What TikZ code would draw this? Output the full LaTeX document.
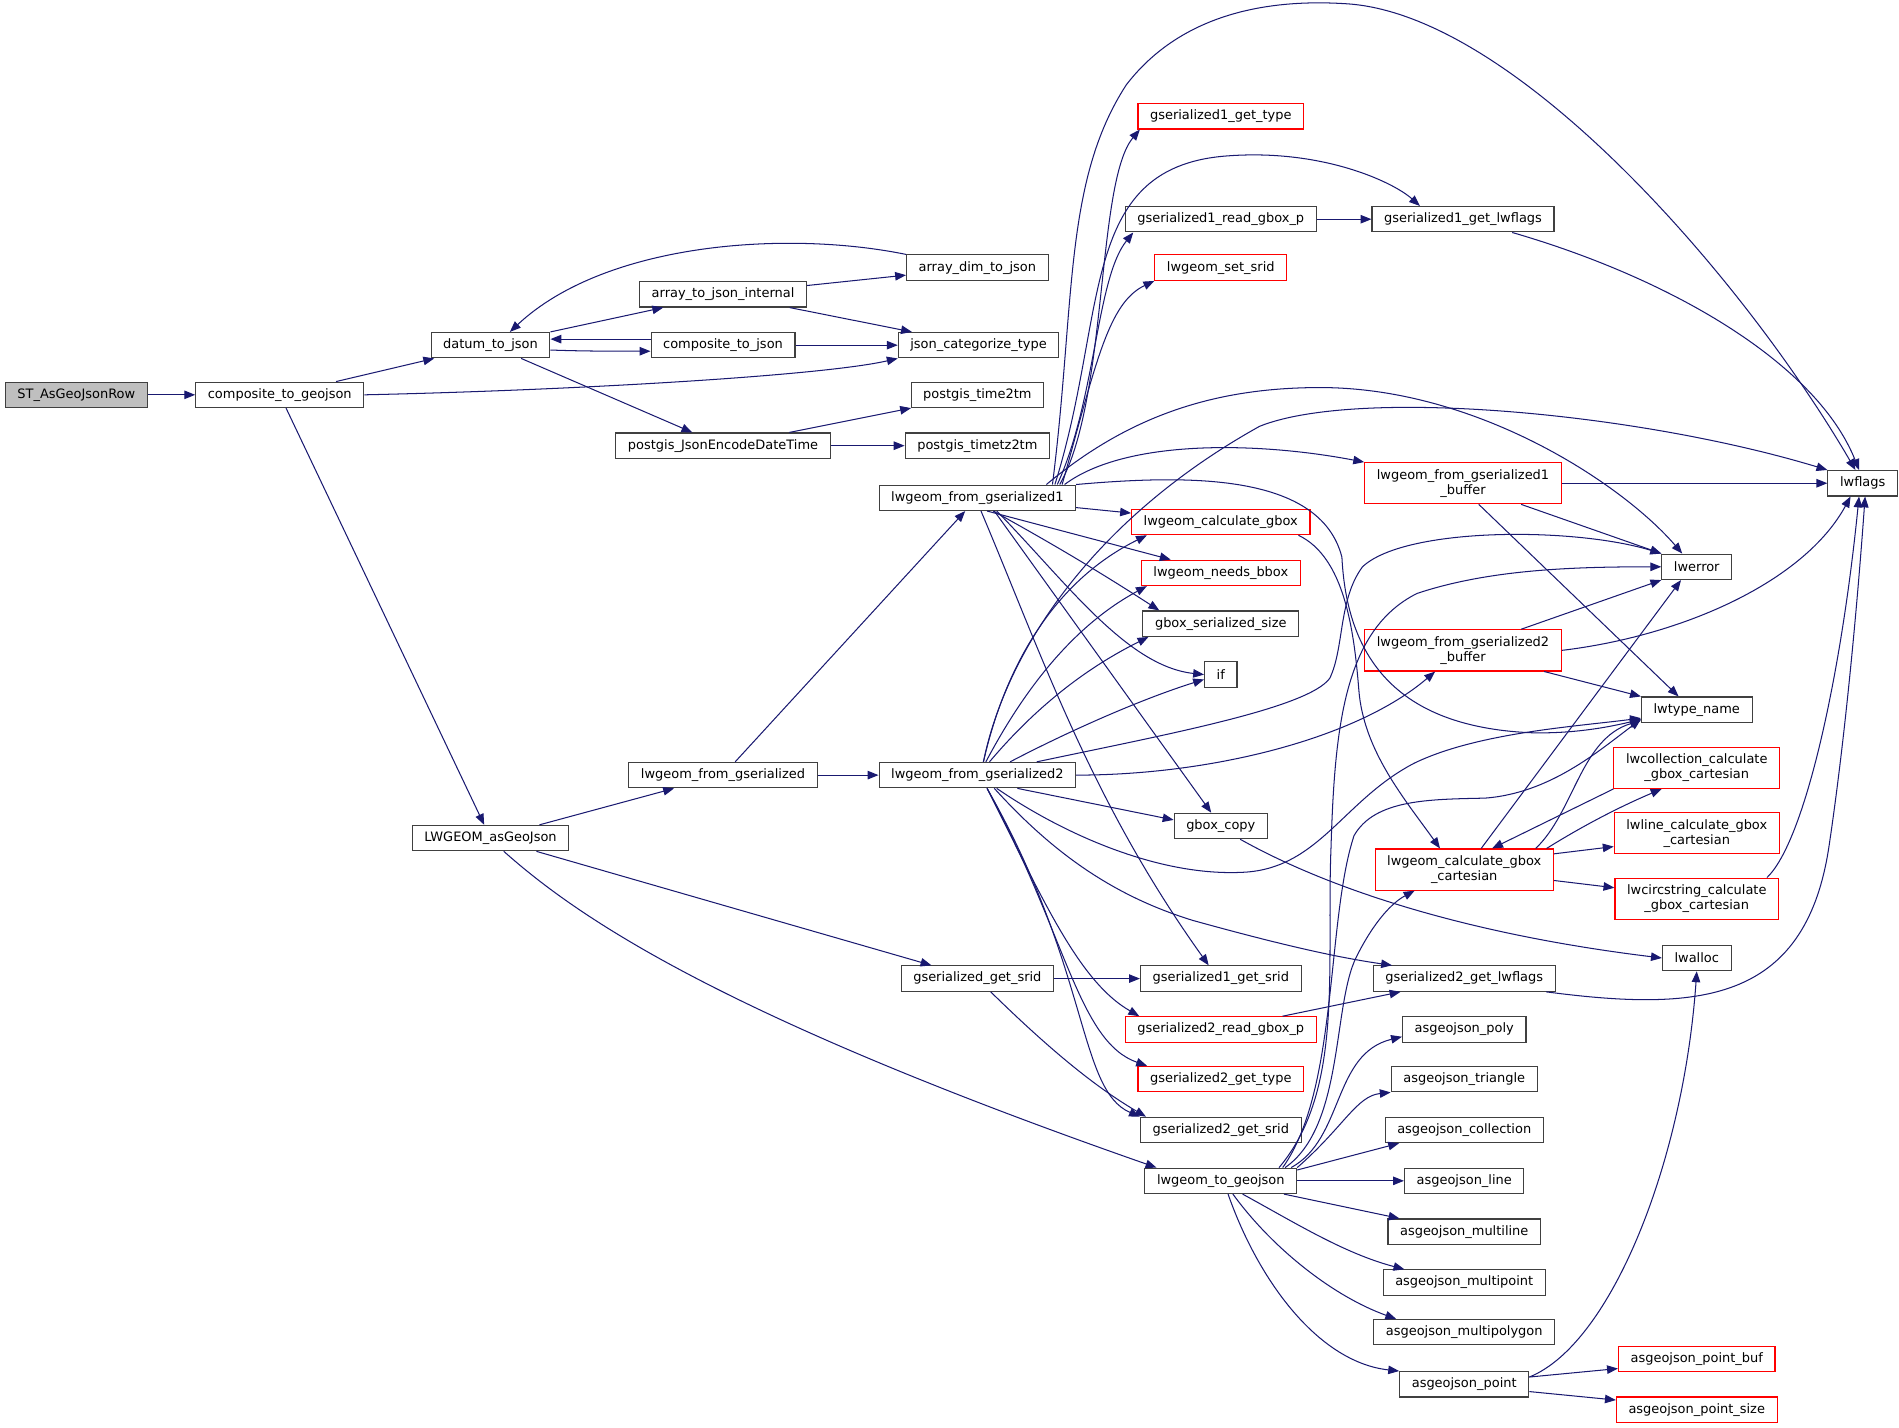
\documentclass[tikz,border=0pt]{standalone}
\usepackage{fontspec}
\setmainfont{DejaVu Sans}
\usetikzlibrary{arrows.meta}
\definecolor{edgeblue}{RGB}{25,25,112}
\definecolor{boxgray}{RGB}{64,64,64}
\definecolor{truncred}{RGB}{255,0,0}
\definecolor{rootfill}{RGB}{191,191,191}
\tikzset{
  func/.style={draw=boxgray, fill=white, line width=0.9pt, inner xsep=10pt, inner ysep=2pt,
    minimum height=21pt, align=center, font=\fontsize{10.7}{12.4}\selectfont},
  partial/.style={func, draw=truncred},
  twoline/.style={minimum height=34pt},
  rootfn/.style={func, fill=rootfill},
  calls/.style={draw=edgeblue, line width=0.85pt, -{Triangle[length=9pt,width=7pt]}}
}
\begin{document}
\begin{tikzpicture}[x=1pt,y=-1pt]
    \useasboundingbox (0,0) rectangle (1568,1179);
    \node[rootfn] (st) at (63,326) {ST\_AsGeoJsonRow};
    \node[func] (ctg) at (231,326) {composite\_to\_geojson};
    \node[func] (dtj) at (405,285) {datum\_to\_json};
    \node[func] (atji) at (597,243) {array\_to\_json\_internal};
    \node[func] (ctj) at (597,285) {composite\_to\_json};
    \node[func] (pjedt) at (597,368) {postgis\_JsonEncodeDateTime};
    \node[func] (lwasg) at (405,692) {LWGEOM\_asGeoJson};
    \node[func] (lwgs) at (597,640) {lwgeom\_from\_gserialized};
    \node[func] (adj) at (807,221) {array\_dim\_to\_json};
    \node[func] (jct) at (808,285) {json\_categorize\_type};
    \node[func] (ptm) at (807,326) {postgis\_time2tm};
    \node[func] (ptzm) at (807,368) {postgis\_timetz2tm};
    \node[func] (lwg1) at (807,411) {lwgeom\_from\_gserialized1};
    \node[func] (lwg2) at (807,640) {lwgeom\_from\_gserialized2};
    \node[func] (gsgs) at (807,808) {gserialized\_get\_srid};
    \node[partial] (gs1t) at (1008,96) {gserialized1\_get\_type};
    \node[func] (gs1r) at (1008,181) {gserialized1\_read\_gbox\_p};
    \node[partial] (lwss) at (1008,221) {lwgeom\_set\_srid};
    \node[partial] (lwcg) at (1008,431) {lwgeom\_calculate\_gbox};
    \node[partial] (lwnb) at (1008,473) {lwgeom\_needs\_bbox};
    \node[func] (gbss) at (1008,515) {gbox\_serialized\_size};
    \node[func] (iff) at (1008,557) {if};
    \node[func] (gbcp) at (1008,682) {gbox\_copy};
    \node[func] (gs1s) at (1008,808) {gserialized1\_get\_srid};
    \node[partial] (gs2r) at (1008,850) {gserialized2\_read\_gbox\_p};
    \node[partial] (gs2t) at (1008,891) {gserialized2\_get\_type};
    \node[func] (gs2s) at (1008,933) {gserialized2\_get\_srid};
    \node[func] (lwtg) at (1008,975) {lwgeom\_to\_geojson};
    \node[func] (gs1lf) at (1208,181) {gserialized1\_get\_lwflags};
    \node[partial, twoline] (lwg1b) at (1208,399) {lwgeom\_from\_gserialized1\\\_buffer};
    \node[partial, twoline] (lwg2b) at (1208,537) {lwgeom\_from\_gserialized2\\\_buffer};
    \node[partial, twoline] (lwcgc) at (1209,718) {lwgeom\_calculate\_gbox\\\_cartesian};
    \node[func] (gs2lf) at (1209,808) {gserialized2\_get\_lwflags};
    \node[func] (agjpoly) at (1209,850) {asgeojson\_poly};
    \node[func] (agjtri) at (1209,891) {asgeojson\_triangle};
    \node[func] (agjcoll) at (1209,933) {asgeojson\_collection};
    \node[func] (agjline) at (1209,975) {asgeojson\_line};
    \node[func] (agjmline) at (1209,1017) {asgeojson\_multiline};
    \node[func] (agjmpt) at (1209,1059) {asgeojson\_multipoint};
    \node[func] (agjmpoly) at (1209,1100) {asgeojson\_multipolygon};
    \node[func] (agjpt) at (1209,1143) {asgeojson\_point};
    \node[func] (lwflags) at (1538,399) {lwflags};
    \node[func] (lwerror) at (1401,468) {lwerror};
    \node[func] (lwtn) at (1401,586) {lwtype\_name};
    \node[partial, twoline] (lwcoll) at (1401,634) {lwcollection\_calculate\\\_gbox\_cartesian};
    \node[partial, twoline] (lwline) at (1401,688) {lwline\_calculate\_gbox\\\_cartesian};
    \node[partial, twoline] (lwcirc) at (1401,742) {lwcircstring\_calculate\\\_gbox\_cartesian};
    \node[func] (lwalloc) at (1401,791) {lwalloc};
    \node[partial] (agjpb) at (1401,1122) {asgeojson\_point\_buf};
    \node[partial] (agjps) at (1401,1164) {asgeojson\_point\_size};

    \draw[calls] (st) -- (ctg);
    \draw[calls] (ctg) -- (dtj);
    \draw[calls] (ctg.east) .. controls (480,322) and (680,310) .. (jct.south west);
    \draw[calls] (ctg) -- (lwasg);
    \draw[calls] (dtj.north east) -- ([xshift=20pt]atji.south west);
    \draw[calls] ([yshift=-4pt]dtj.east) .. controls (480,290) and (510,290) .. ([yshift=-5pt]ctj.west);
    \draw[calls] ([yshift=5pt]ctj.west) .. controls (510,280) and (480,280) .. ([yshift=5pt]dtj.east);
    \draw[calls] (dtj) -- (pjedt);
    \draw[calls] (atji) -- (adj);
    \draw[calls] (atji) -- (jct);
    \draw[calls] (adj.north west) .. controls (650,190) and (500,200) .. ([xshift=16pt]dtj.north);
    \draw[calls] (ctj) -- (jct);
    \draw[calls] (pjedt) -- (ptm);
    \draw[calls] (pjedt) -- (ptzm);
    \draw[calls] (lwasg) -- (lwgs);
    \draw[calls] (lwasg) -- (gsgs);
    \draw[calls] ([xshift=11pt]lwasg.south) .. controls (480,760) and (600,840) .. ([xshift=10pt]lwtg.north west);
    \draw[calls] (lwgs) -- (lwg1);
    \draw[calls] (lwgs) -- (lwg2);

    \draw[calls] ([xshift=68pt]lwg1.north) .. controls (915,330) and (905,150) .. ([xshift=2pt]gs1t.south west);
    \draw[calls] ([xshift=66pt]lwg1.north) .. controls (905,330) and (905,230) .. ([xshift=7pt]gs1r.south west);
    \draw[calls] ([xshift=64pt]lwg1.north) .. controls (915,260) and (890,140) .. (1010,129) .. controls (1090,122) and (1150,150) .. ([xshift=40pt]gs1lf.north west);
    \draw[calls] ([xshift=70pt]lwg1.north) .. controls (905,300) and (915,250) .. (lwss.south west);
    \draw[calls] ([xshift=62pt]lwg1.north) .. controls (888,250) and (878,150) .. (930,70) .. controls (980,5) and (1060,0) .. (1110,3) .. controls (1250,10) and (1440,230) .. ([xshift=-6pt]lwflags.north);
    \draw[calls] ([xshift=57pt]lwg1.north) .. controls (930,345) and (1000,320) .. (1090,320) .. controls (1220,320) and (1340,400) .. ([xshift=-12pt]lwerror.north);
    \draw[calls] ([xshift=72pt]lwg1.north) .. controls (930,362) and (1040,365) .. (lwg1b.north west);
    \draw[calls] (lwg1) -- (lwcg);
    \draw[calls] ([xshift=8pt]lwg1.south) -- (lwnb);
    \draw[calls] ([xshift=13pt]lwg1.south) .. controls (880,455) and (920,480) .. ([xshift=14pt]gbss.north west);
    \draw[calls] ([xshift=16pt]lwg1.south) .. controls (880,480) and (930,550) .. (iff.west);
    \draw[calls] ([xshift=14pt]lwg1.south) -- (gbcp);
    \draw[calls] ([xshift=3pt]lwg1.south) .. controls (860,540) and (900,660) .. ([xshift=-10pt]gs1s.north);
    \draw[calls] (lwg1.north east) .. controls (980,392) and (1090,390) .. (1108,460) .. controls (1112,540) and (1150,600) .. (1264,605) .. controls (1300,606) and (1330,600) .. ([yshift=3pt]lwtn.south west);

    \draw[calls] ([xshift=49pt]lwg2.north) .. controls (960,607) and (1080,585) .. (1098,560) .. controls (1110,535) and (1105,495) .. (1125,468) .. controls (1160,435) and (1300,435) .. (lwerror.north west);
    \draw[calls] ([xshift=5pt]lwg2.north) .. controls (830,540) and (900,430) .. (1040,352) .. controls (1120,320) and (1350,340) .. (lwflags.north west);
    \draw[calls] ([xshift=5pt]lwg2.north) .. controls (830,550) and (870,480) .. ([xshift=-61pt]lwcg.south);
    \draw[calls] ([xshift=7pt]lwg2.north) .. controls (840,580) and (880,520) .. ([xshift=5pt]lwnb.south west);
    \draw[calls] ([xshift=10pt]lwg2.north) .. controls (850,590) and (890,555) .. ([xshift=5pt]gbss.south west);
    \draw[calls] ([xshift=27pt]lwg2.north) .. controls (880,605) and (940,578) .. ([yshift=-4pt]iff.west);
    \draw[calls] (lwg2.east) .. controls (1000,640) and (1120,610) .. ([xshift=-23pt]lwg2b.south);
    \draw[calls] ([xshift=16pt]lwg2.south) .. controls (880,690) and (960,725) .. (1030,720) .. controls (1090,715) and (1110,660) .. (1168,630) .. controls (1220,605) and (1300,600) .. ([yshift=4pt]lwtn.south west);
    \draw[calls] ([xshift=33pt]lwg2.south) -- ([yshift=5pt]gbcp.west);
    \draw[calls] ([xshift=14pt]lwg2.south) .. controls (870,705) and (920,740) .. (985,760) .. controls (1050,778) and (1100,790) .. ([xshift=16pt]gs2lf.north west);
    \draw[calls] ([xshift=8pt]lwg2.south) .. controls (860,740) and (890,810) .. ([xshift=12pt]gs2r.north west);
    \draw[calls] ([xshift=8pt]lwg2.south) .. controls (880,770) and (890,860) .. ([xshift=8pt]gs2t.north west);
    \draw[calls] ([xshift=8pt]lwg2.south) .. controls (900,800) and (890,900) .. (gs2s.north west);

    \draw[calls] (gsgs) -- (gs1s);
    \draw[calls] ([xshift=11pt]gsgs.south) .. controls (860,860) and (900,895) .. ([xshift=5pt]gs2s.north west);
    \draw[calls] (gs1r) -- (gs1lf);
    \draw[calls] ([xshift=-35pt]gs1lf.south east) .. controls (1380,230) and (1500,300) .. ([xshift=-3pt]lwflags.north);

    \draw[calls] (lwg1b) -- (lwflags);
    \draw[calls] ([xshift=48pt]lwg1b.south) -- (lwerror.north west);
    \draw[calls] ([xshift=13pt]lwg1b.south) -- ([xshift=-15pt]lwtn.north);
    \draw[calls] (lwg2b.east) .. controls (1390,525) and (1490,480) .. ([xshift=-10pt]lwflags.south);
    \draw[calls] ([xshift=48pt]lwg2b.north) -- (lwerror.south west);
    \draw[calls] ([xshift=67pt]lwg2b.south) -- (lwtn.north west);

    \draw[calls] ([xshift=-10pt]lwcg.south east) .. controls (1110,460) and (1118,520) .. (1122,570) .. controls (1126,620) and (1160,660) .. ([xshift=-20pt]lwcgc.north);
    \draw[calls] ([xshift=14pt]lwcgc.north) -- ([xshift=-13pt]lwerror.south);
    \draw[calls] ([xshift=59pt]lwcgc.north) .. controls (1300,670) and (1305,610) .. ([yshift=2pt]lwtn.south west);
    \draw[calls] ([xshift=68pt]lwcgc.north) .. controls (1310,680) and (1340,665) .. ([xshift=-29pt]lwcoll.south);
    \draw[calls] (lwcoll.south west) -- ([xshift=23pt]lwcgc.north);
    \draw[calls] ([yshift=13pt]lwcgc.east) -- ([yshift=-11pt]lwline.west);
    \draw[calls] ([yshift=-9pt]lwcgc.east) -- ([yshift=9pt]lwcirc.west);
    \draw[calls] ([xshift=58pt]lwcirc.north) .. controls (1490,695) and (1520,560) .. ([xshift=-3pt]lwflags.south);
    \draw[calls] ([xshift=-8pt]gs2lf.south east) .. controls (1400,835) and (1490,830) .. (1510,700) .. controls (1525,600) and (1535,480) .. ([xshift=2pt]lwflags.south);
    \draw[calls] ([xshift=16pt]gbcp.south) .. controls (1090,730) and (1200,770) .. (lwalloc.west);
    \draw[calls] ([xshift=51pt]gs2r.north) -- ([xshift=23pt]gs2lf.south west);

    \draw[calls] ([xshift=-5pt]lwtg.north east) .. controls (1110,940) and (1100,870) .. ([yshift=-6pt]agjpoly.west);
    \draw[calls] (lwtg.north east) .. controls (1110,930) and (1120,905) .. (agjtri.south west);
    \draw[calls] ([yshift=-2pt]lwtg.north east) -- ([xshift=12pt]agjcoll.south west);
    \draw[calls] (lwtg) -- (agjline);
    \draw[calls] ([xshift=-11pt]lwtg.south east) -- ([xshift=10pt]agjmline.north west);
    \draw[calls] ([xshift=18pt]lwtg.south) .. controls (1070,1010) and (1110,1035) .. ([xshift=18pt]agjmpt.north west);
    \draw[calls] ([xshift=10pt]lwtg.south) .. controls (1050,1030) and (1100,1070) .. ([xshift=19pt]agjmpoly.north west);
    \draw[calls] ([xshift=6pt]lwtg.south) .. controls (1040,1060) and (1090,1125) .. (agjpt.north west);
    \draw[calls] ([xshift=-10pt]lwtg.north east) .. controls (1110,930) and (1100,830) .. (1120,790) .. controls (1135,760) and (1150,745) .. ([xshift=-41pt]lwcgc.south);
    \draw[calls] ([xshift=-15pt]lwtg.north east) .. controls (1110,900) and (1095,800) .. (1099,700) .. controls (1102,600) and (1110,520) .. (1170,490) .. controls (1230,470) and (1300,468) .. (lwerror.west);
    \draw[calls] ([xshift=-12pt]lwtg.north east) .. controls (1105,900) and (1095,760) .. (1118,690) .. controls (1135,660) and (1180,660) .. (1226,659) .. controls (1280,655) and (1320,620) .. ([yshift=3pt]lwtn.south west);

    \draw[calls] ([yshift=6pt]agjpt.east) .. controls (1330,1110) and (1390,960) .. (lwalloc.south);
    \draw[calls] ([yshift=6pt]agjpt.east) -- ([yshift=-8pt]agjpb.west);
    \draw[calls] ([yshift=-6pt]agjpt.east) -- ([yshift=8pt]agjps.west);
\end{tikzpicture}
\end{document}
